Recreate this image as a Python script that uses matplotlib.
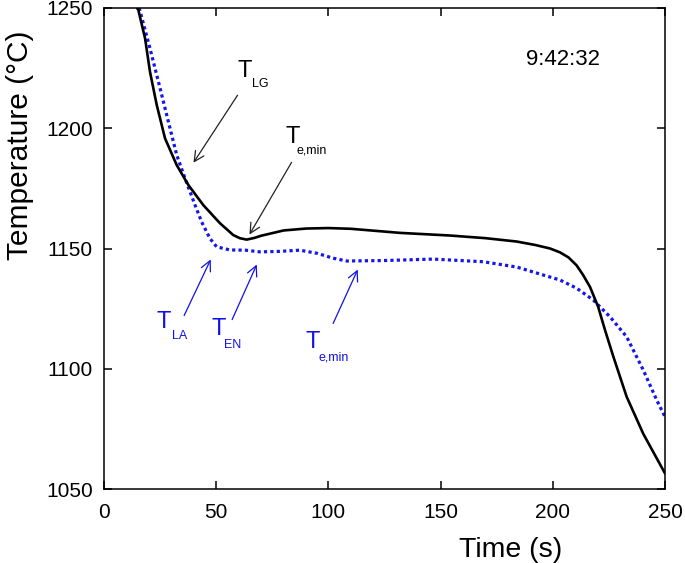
import matplotlib
matplotlib.use("Agg")
import matplotlib.pyplot as plt

plt.rcParams['font.family'] = ['Liberation Sans', 'DejaVu Sans']

# Black curve (solid line)
t_black = [14.7, 15.3, 18.3, 20.5, 23.5, 27.2, 32.4, 37.6, 44.3, 51.7, 57.6, 60.5, 63.6, 67.0,
           70.0, 80.0, 90.0, 100.0, 110.0, 131.9, 154.2, 170.0, 183.9, 192.0, 198.8, 203.2,
           207.0, 210.6, 213.5, 216.6, 220.2, 223.3, 227.0, 232.9, 240.3, 250.0]
T_black = [1250, 1249.2, 1237.4, 1223.5, 1209.7, 1195.8, 1184.7, 1176.4, 1168, 1160.5, 1155.6,
           1154.3, 1153.7, 1154.4, 1155.3, 1157.5, 1158.3, 1158.5, 1158.2, 1156.5, 1155.4,
           1154.3, 1152.9, 1151.5, 1150, 1148.4, 1146.3, 1143, 1139, 1134, 1125.8, 1116,
           1105, 1088.4, 1073, 1056.5]

# Blue dotted curve
t_blue = [15.5, 16.0, 20.5, 25.0, 28.7, 32.4, 36.1, 40.6, 43.5, 47.2, 50.2, 56.1, 63.0,
          69.5, 78.0, 87.3, 95.0, 102.0, 108.2, 125.0, 146.7, 169.0, 183.9, 203.2,
          210.6, 218.0, 225.5, 232.9, 240.3, 246.3, 250.0]
T_blue = [1250, 1249, 1233.2, 1216.6, 1202.7, 1188.9, 1179.2, 1168, 1161.1, 1154.2, 1150.7,
          1149.4, 1149.3, 1148.6, 1148.8, 1149.3, 1148, 1146, 1144.8, 1145, 1145.6, 1144.5,
          1142.3, 1136.9, 1133.5, 1128.6, 1121.6, 1113.3, 1099.5, 1087, 1080]

x_ticks = [0, 50, 100, 150, 200, 250]
y_ticks = [1050, 1100, 1150, 1200, 1250]

fig = plt.figure(figsize=(6.85, 5.63), dpi=100)
ax = fig.add_axes([0.1518, 0.1314, 0.8190, 0.8544])

ax.plot(t_black, T_black, color='black', lw=1.9, solid_capstyle='round',
        solid_joinstyle='round', zorder=3)
ax.plot(t_blue, T_blue, color='#1515f0', lw=2.3, linestyle=(0, (1, 1)), zorder=2)

ax.set_xlim(0, 250)
ax.set_ylim(1050, 1250)
ax.set_xticks(x_ticks)
ax.set_yticks(y_ticks)
ax.tick_params(direction='in', length=6, width=1.1, top=True, right=True,
               labelsize=15)
ax.tick_params(axis='x', pad=10)
ax.tick_params(axis='y', pad=8)
for s in ax.spines.values():
    s.set_linewidth(1.1)

ax.set_xlabel('Time (s)', fontsize=20.5)
ax.xaxis.set_label_coords(0.724, -0.100)
ax.set_ylabel('Temperature (°C)', fontsize=21.5)
ax.yaxis.set_label_coords(-0.125, 0.715)

ax.text(204.5, 1228.4, '9:42:32', fontsize=16, ha='center', va='center')

blk = 'black'
blu = '#1010e8'

def label(x, y, sx, sy, sub, color):
    ax.text(x, y, 'T', fontsize=17, color=color, ha='left', va='baseline')
    ax.text(sx, sy, sub, fontsize=9, color=color, ha='left', va='baseline')

# black annotations
label(59.3, 1221.3, 66.0, 1217.2, 'LG', blk)
ax.annotate('', xy=(39.2, 1184.7), xytext=(60.2, 1214.7),
            arrowprops=dict(arrowstyle='->', color='#222222', lw=0.9, mutation_scale=18))
label(80.7, 1193.9, 86.0, 1189.7, 'e,min', blk)
ax.annotate('', xy=(64.2, 1154.8), xytext=(84.2, 1186.8),
            arrowprops=dict(arrowstyle='->', color='#222222', lw=0.9, mutation_scale=18))

# blue annotations
label(23.6, 1116.9, 30.3, 1112.4, 'LA', blu)
ax.annotate('', xy=(48.1, 1146.5), xytext=(35.2, 1121.1),
            arrowprops=dict(arrowstyle='->', color=blu, lw=0.9, mutation_scale=18))
label(48.1, 1114.0, 53.5, 1108.6, 'EN', blu)
ax.annotate('', xy=(68.6, 1144.4), xytext=(56.6, 1119.4),
            arrowprops=dict(arrowstyle='->', color=blu, lw=0.9, mutation_scale=18))
label(89.6, 1108.6, 95.4, 1103.6, 'e,min', blu)
ax.annotate('', xy=(113.6, 1142.3), xytext=(101.6, 1117.8),
            arrowprops=dict(arrowstyle='->', color=blu, lw=0.9, mutation_scale=18))

fig.savefig('out.png', dpi=100)
